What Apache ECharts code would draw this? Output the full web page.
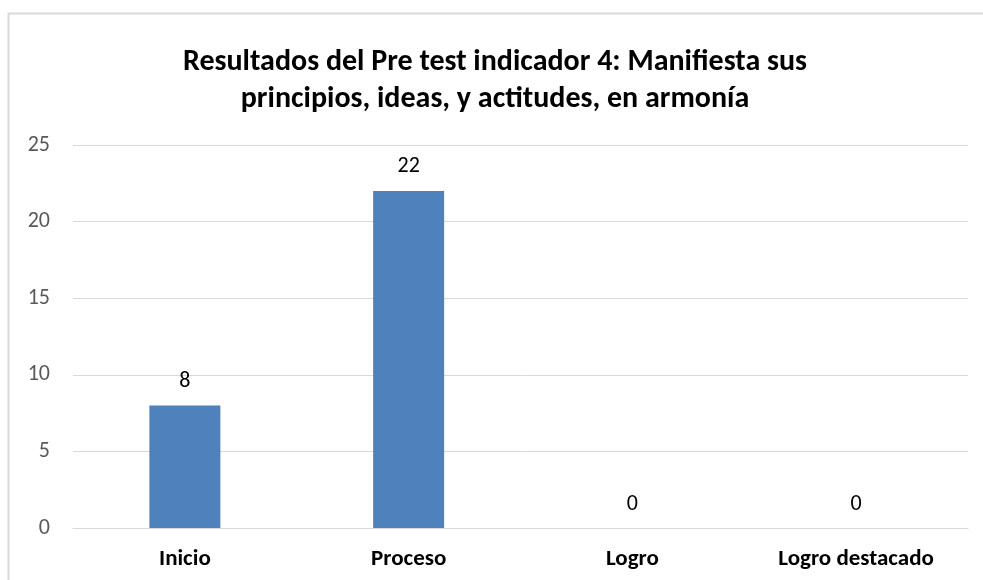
<!DOCTYPE html>
<html>
<head>
<meta charset="utf-8">
<script src="https://cdn.jsdelivr.net/npm/echarts@6/dist/echarts.min.js"></script>
<style>
  html, body { margin: 0; padding: 0; background: #fff; }
  #main { width: 983px; height: 580px; }
</style>
</head>
<body>
<div id="main"></div>
<script>
var categories = ['Inicio', 'Proceso', 'Logro', 'Logro destacado'];
var values = [8, 22, 0, 0];
var titleText = 'Resultados del Pre test indicador 4: Manifiesta sus\nprincipios, ideas, y actitudes, en armonía';

var myChart = echarts.init(document.getElementById('main'));
var font = 'Carlito, Calibri, Lato, sans-serif';
var option = {
    backgroundColor: '#fff',
    animation: false,
    graphic: [{
        type: 'rect',
        shape: { x: 8.5, y: 13.5, width: 1000, height: 600 },
        style: { fill: 'none', stroke: '#d9d9d9', lineWidth: 2 },
        silent: true
    }],
    title: {
        text: titleText,
        left: 490,
        textAlign: 'center',
        top: 39,
        textStyle: {
            fontFamily: font,
            fontSize: 30,
            fontWeight: 'bold',
            color: '#000',
            lineHeight: 37
        }
    },
    grid: {
        left: 73,
        right: 15,
        top: 145,
        bottom: 52
    },
    xAxis: {
        type: 'category',
        data: categories,
        axisLine: { show: true, lineStyle: { color: '#d9d9d9', width: 1 } },
        axisTick: { show: false },
        axisLabel: {
            fontFamily: font,
            fontSize: 23,
            fontWeight: 'bold',
            color: '#000',
            margin: 20
        }
    },
    yAxis: {
        type: 'value',
        min: 0,
        max: 25,
        interval: 5,
        axisLine: { show: false },
        axisTick: { show: false },
        splitLine: { lineStyle: { color: '#d9d9d9', width: 1 } },
        axisLabel: {
            fontFamily: font,
            fontSize: 22,
            color: '#595959',
            margin: 23
        }
    },
    series: [{
        type: 'bar',
        data: values,
        barWidth: 71,
        itemStyle: { color: '#4f81bd' },
        label: {
            show: true,
            position: 'top',
            distance: 13,
            fontFamily: font,
            fontSize: 22,
            color: '#000'
        }
    }]
};
myChart.setOption(option);

window.onresize = function () {
    myChart.resize();
};
</script>
</body>
</html>
